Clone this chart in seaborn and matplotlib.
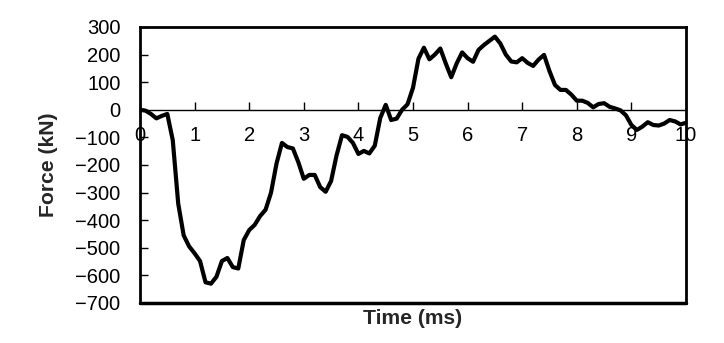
import matplotlib
matplotlib.use('Agg')
import matplotlib.pyplot as plt
import seaborn as sns
import pandas as pd

time_ms = [0.0, 0.1, 0.2, 0.3, 0.4, 0.5, 0.6, 0.7, 0.8, 0.9,
           1.0, 1.1, 1.2, 1.3, 1.4, 1.5, 1.6, 1.7, 1.8, 1.9,
           2.0, 2.1, 2.2, 2.3, 2.4, 2.5, 2.6, 2.7, 2.8, 2.9,
           3.0, 3.1, 3.2, 3.3, 3.4, 3.5, 3.6, 3.7, 3.8, 3.9,
           4.0, 4.1, 4.2, 4.3, 4.4, 4.5, 4.6, 4.7, 4.8, 4.9,
           5.0, 5.1, 5.2, 5.3, 5.4, 5.5, 5.6, 5.7, 5.8, 5.9,
           6.0, 6.1, 6.2, 6.3, 6.4, 6.5, 6.6, 6.7, 6.8, 6.9,
           7.0, 7.1, 7.2, 7.3, 7.4, 7.5, 7.6, 7.7, 7.8, 7.9,
           8.0, 8.1, 8.2, 8.3, 8.4, 8.5, 8.6, 8.7, 8.8, 8.9,
           9.0, 9.1, 9.2, 9.3, 9.4, 9.5, 9.6, 9.7, 9.8, 9.9, 10.0]

force_kn = [0, -3, -15, -31, -22, -15, -110, -340, -455, -495,
            -520, -548, -625, -630, -605, -548, -537, -570, -575, -472,
            -436, -417, -385, -362, -300, -195, -120, -135, -140, -190,
            -250, -236, -236, -280, -297, -258, -165, -92, -98, -120,
            -160, -149, -158, -130, -30, 18, -37, -32, 0, 20,
            80, 185, 225, 183, 200, 222, 168, 118, 168, 208,
            187, 174, 217, 235, 250, 265, 240, 200, 175, 172,
            187, 170, 159, 182, 199, 140, 90, 72, 72, 55,
            33, 33, 25, 9, 21, 24, 11, 5, -2, -20,
            -55, -73, -61, -45, -55, -57, -50, -37, -42, -53, -47]

x_ticks = [0, 1, 2, 3, 4, 5, 6, 7, 8, 9, 10]
y_ticks = [-700, -600, -500, -400, -300, -200, -100, 0, 100, 200, 300]

sns.set_theme(style='white')
plt.rcParams['font.family'] = ['Liberation Sans', 'DejaVu Sans']

fig = plt.figure(figsize=(7.24, 3.43), dpi=100)
ax = fig.add_axes([140 / 724, 40 / 343, 546 / 724, 276 / 343])

df = pd.DataFrame({'Time (ms)': time_ms, 'Force (kN)': force_kn})
sns.lineplot(data=df, x='Time (ms)', y='Force (kN)', ax=ax, color='black',
             linewidth=3.0, solid_joinstyle='round', solid_capstyle='round')

ax.set_xlim(0, 10)
ax.set_ylim(-700, 300)
ax.set_xticks(x_ticks)
ax.set_yticks(y_ticks)

for side in ['left', 'right', 'top']:
    ax.spines[side].set_linewidth(2)
    ax.spines[side].set_color('black')
ax.spines['bottom'].set_position(('data', 0))
ax.spines['bottom'].set_linewidth(1.0)
ax.spines['bottom'].set_color('black')
ax.axhline(-700, color='black', linewidth=2.5, clip_on=False)

ax.tick_params(axis='x', direction='in', length=6, width=1, pad=12,
               labelsize=14.5, colors='black', bottom=True)
ax.tick_params(axis='y', direction='in', length=6, width=1, pad=14,
               labelsize=14.5, colors='black', left=True)

ax.set_xlabel('Time (ms)', fontsize=15.2, fontweight='bold', va='top')
ax.xaxis.set_label_coords(0.5, -6 / 276)
ax.set_ylabel('Force (kN)', fontsize=15.2, fontweight='bold', va='center')
ax.yaxis.set_label_coords((48 - 140) / 546, 0.5)

fig.savefig('out.png', dpi=100, facecolor='white')
